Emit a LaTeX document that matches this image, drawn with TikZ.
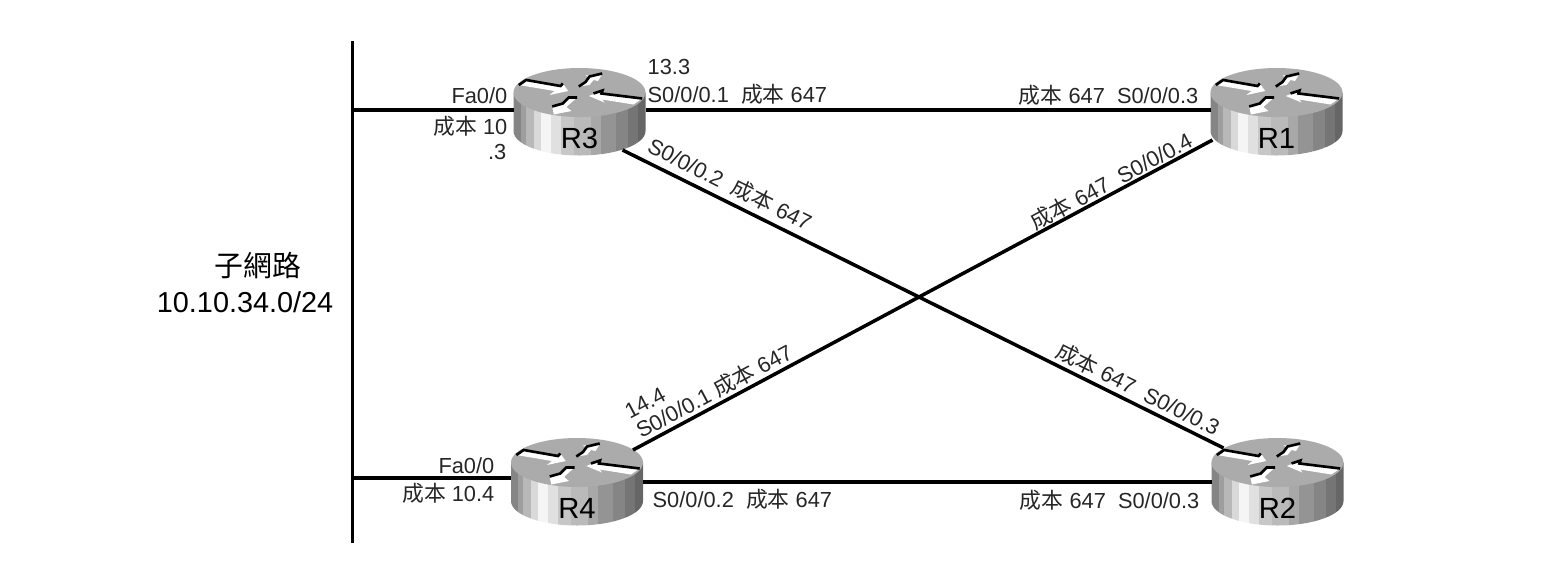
\documentclass[tikz,border=0pt]{standalone}
\usepackage{fontspec}
\setmainfont{Liberation Sans}
\newfontfamily\cjk{Noto Sans CJK TC}
\usetikzlibrary{calc}

\newcommand{\cost}{{\cjk 成本}}

\tikzset{
  link/.style={line width=1pt,black},
  lidline/.style={line width=0.75pt,black},
  lbl/.style={font=\fontsize{6.2}{7}\selectfont,inner sep=0pt,text=black!85},
  lblbig/.style={font=\fontsize{8.2}{10}\selectfont,inner sep=0pt},
  rtrname/.style={font=\fontsize{8.3}{9}\selectfont,inner sep=0pt}
}

% name, x, y, text, y of the serial link
\newcommand{\router}[5]{
\begin{scope}[shift={(#2,#3)}]
  \begin{scope}
    \clip (-66,-19) -- (-66,19.5) arc[start angle=180,end angle=0,x radius=66,y radius=24.5] -- (66,-19) -- cycle;
    \foreach \xa/\xb/\g in {-67/-59/52,-59/-54/62,-54/-46/72,-46/-39/85,-39/-29/96,-29/-19/88,-19/-6/78,-6/11/73,11/21/66,21/36/58,36/48/52,48/58/46,58/67/40}
      \fill[white!\g!black] (\xa,-25) rectangle (\xb,50);
  \end{scope}
  \fill[black!33] (0,-19) ellipse (66 and 24.5);
  % four arrows on the lid
  \fill[white] (-60.7,-26.5) -- (-53.3,-31) -- (-19,-25.5) -- (-16.7,-28) -- (-11.3,-20.5) -- (-30,-16.5) -- (-25,-20.5) -- cycle;
  \draw[lidline] (-60.7,-26.5) -- (-53.3,-31.5) -- (-19,-25.5) -- (-16.7,-28);
  \fill[white] (22.7,-37.5) -- (6,-36) -- (10,-34) -- (6,-29) -- (-0.7,-25) -- (10,-26.5) -- (14,-31.5) -- (18.5,-30.5) -- cycle;
  \draw[lidline] (-0.7,-25) -- (6,-29.5) -- (10,-35) -- (22.7,-38);
  \fill[white] (9.3,-15.5) -- (23,-21) -- (22,-18) -- (62.7,-13) -- (54,-7) -- (22.7,-12) -- (25,-9) -- cycle;
  \draw[lidline] (14,-18) -- (23,-21) -- (22,-18) -- (62.7,-13);
  \fill[white] (-2.3,-14) -- (-10.7,-14) -- (-16.7,-8) -- (-27.3,-5) -- (-25.7,3) -- (-8,-0.5) -- (-13,-4.5) -- (-7,-10) -- cycle;
  \draw[lidline] (-2.3,-14) -- (-10.7,-14) -- (-16.7,-8) -- (-27.3,-5);
  \node[rtrname] (#1) at (0,26.5) {#4};
  \coordinate (#1-e) at (66,#5);
  \coordinate (#1-w) at (-66,#5);
  \coordinate (#1-se) at (43,38.5);
  \coordinate (#1-sw) at (-64,28.5);
  \coordinate (#1-nw) at (-54,-33.5);
  \coordinate (#1-ne) at (56,-31.5);
\end{scope}
}

\begin{document}
\begin{tikzpicture}[x=0.01cm,y=-0.01cm]
\useasboundingbox (0,0) rectangle (1556,575);

\router{r3}{579.5}{111.5}{R3}{-1.5}
\router{r1}{1276.5}{111.5}{R1}{-1.5}
\router{r4}{577}{481.5}{R4}{0.5}
\router{r2}{1277.5}{481.5}{R2}{0.5}

\coordinate (lan-t) at (352.5,41);
\coordinate (lan-b) at (352.5,543);
\coordinate (lan-r3) at (352.5,110);
\coordinate (lan-r4) at (352.5,478);

\draw[link] (lan-t) -- (lan-b);
\draw[link] (lan-r3) -- (lan-r3 -| r3-w);
\draw[link] (lan-r4) -- (lan-r4 -| r4-w);
\draw[link] (r3-e) -- (r1-w);
\draw[link] (r4-e) -- (r2-w);
\draw[link] (r3-se) -- (r2-nw);
\draw[link] (r4-ne) -- (r1-sw);

\node[lblbig] (subnetname) at (258,266) {\cjk 子網路};
\node[lblbig,anchor=east] (subnet) at (334,302) {10.10.34.0/24};

\node[lbl,anchor=west] (r3a) at (647,67) {13.3};
\node[lbl,anchor=west] (r3b) at (647,94) {S0/0/0.1\ \ \cost{} 647};
\node[lbl,anchor=east] (r3c) at (508,96) {Fa0/0};
\node[lbl,anchor=east] (r3d) at (508,126) {\cost{} 10};
\node[lbl,anchor=east] (r3e) at (507,152) {.3};
\node[lbl,anchor=east] (r1a) at (1199,95) {\cost{} 647\ \ S0/0/0.3};
\node[lbl,rotate=-26.4] (r3f) at (730,184) {S0/0/0.2\ \ \cost{} 647};
\node[lbl,rotate=-26.4] (r2a) at (1138,389) {\cost{} 647\ \ S0/0/0.3};
\node[lbl,rotate=28] (r1b) at (1111,181) {\cost{} 647\ \ S0/0/0.4};
\node[lbl,rotate=28] (r4a) at (645,403) {14.4};
\node[lbl,rotate=28] (r4b) at (714,391) {S0/0/0.1 \cost{} 647};
\node[lbl,anchor=east] (r4c) at (495,466) {Fa0/0};
\node[lbl,anchor=east] (r4d) at (495,493) {\cost{} 10.4};
\node[lbl,anchor=west] (r4e) at (652,499) {S0/0/0.2\ \ \cost{} 647};
\node[lbl,anchor=east] (r2b) at (1200,500) {\cost{} 647\ \ S0/0/0.3};
\end{tikzpicture}
\end{document}
